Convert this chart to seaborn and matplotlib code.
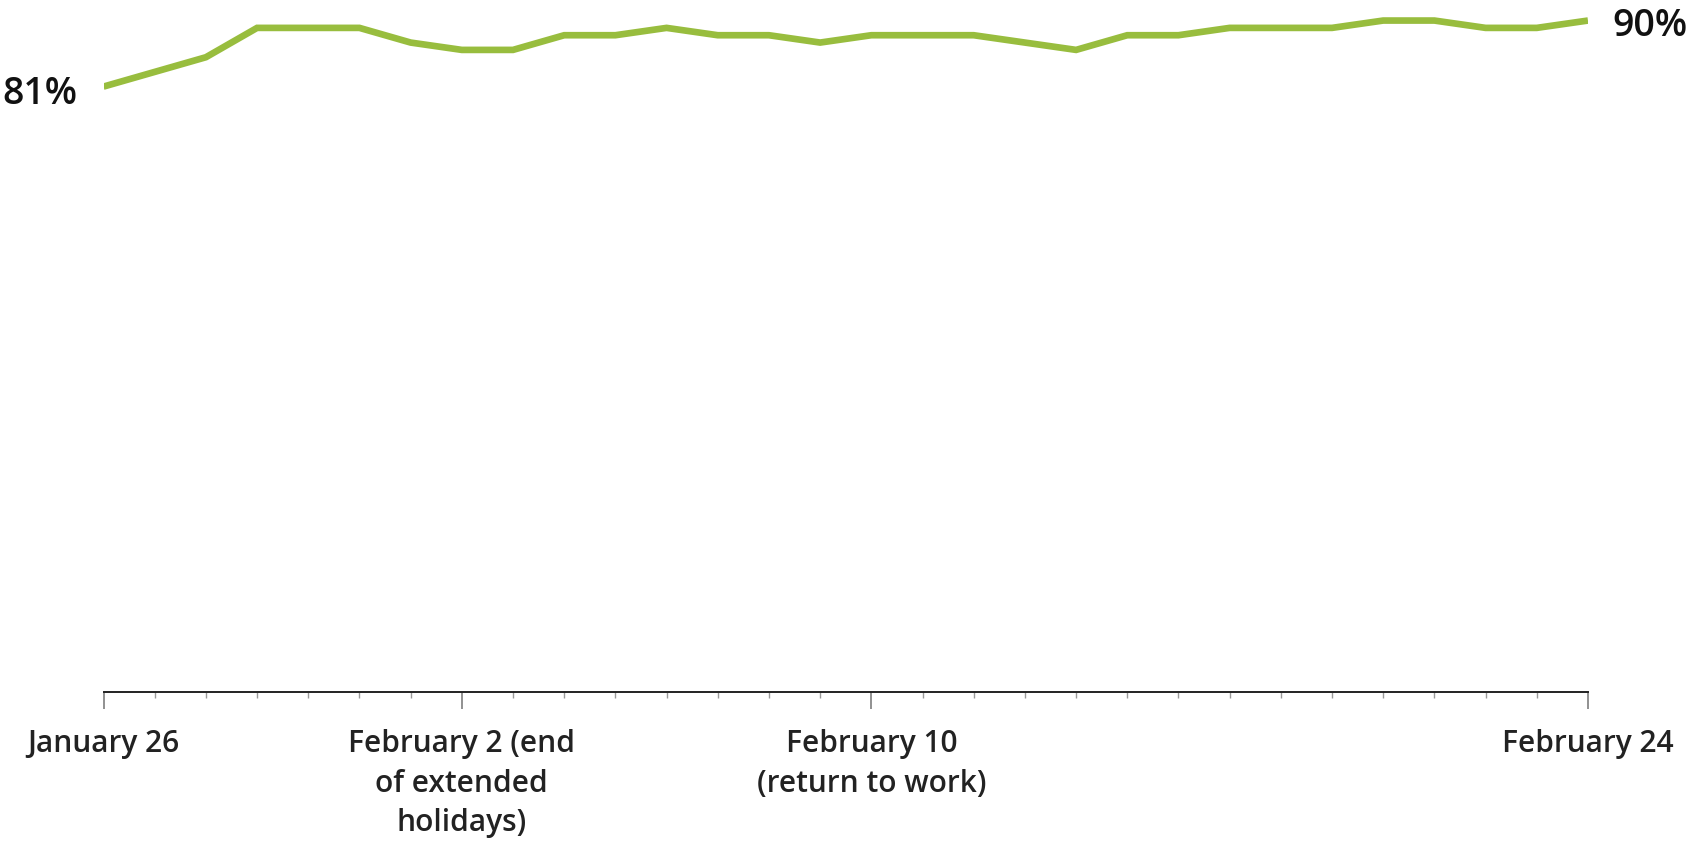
import matplotlib
matplotlib.use("Agg")
import matplotlib.pyplot as plt
from matplotlib.ticker import FixedLocator, MultipleLocator
import seaborn as sns
import pandas as pd

# Daily share, January 26 through February 24
day_index = list(range(30))
share_pct = [81, 83, 85, 89, 89, 89, 87, 86, 86, 88,
             88, 89, 88, 88, 87, 88, 88, 88, 87, 86,
             88, 88, 89, 89, 89, 90, 90, 89, 89, 90]

label_days = [0, 7, 15, 29]
label_texts = ["January 26",
               "February 2 (end\nof extended\nholidays)",
               "February 10\n(return to work)",
               "February 24"]

df = pd.DataFrame({"day": day_index, "share": share_pct})

sns.set_theme(style="white")
plt.rcParams["font.family"] = ["Open Sans", "DejaVu Sans"]

fig = plt.figure(figsize=(16.94, 8.44), dpi=100)
ax = fig.add_axes([0.0611, 0.1801, 0.8763, 0.8199])

sns.lineplot(data=df, x="day", y="share", ax=ax, color="#98BD3E",
             linewidth=4.8, solid_capstyle="butt", solid_joinstyle="miter")

ax.set_xlim(0, 29)
ax.set_ylim(-1.5, 92.8)

for side in ("left", "right", "top"):
    ax.spines[side].set_visible(False)
ax.spines["bottom"].set_color("#222222")
ax.spines["bottom"].set_linewidth(1.4)

ax.set_yticks([])
ax.xaxis.set_major_locator(FixedLocator(label_days))
ax.xaxis.set_minor_locator(MultipleLocator(1))
ax.set_xticklabels(label_texts, fontsize=21.5, fontweight="semibold",
                   color="#222222", linespacing=1.4, va="top")
ax.tick_params(axis="x", which="major", bottom=True, length=12, width=1.3,
               color="#888888", pad=15)
ax.tick_params(axis="x", which="minor", bottom=True, length=4, width=1.0,
               color="#999999")
ax.set_xlabel("")
ax.set_ylabel("")

# Start and end value labels
ax.annotate(f"{share_pct[0]}%", xy=(day_index[0], share_pct[0]),
            xytext=(-19, -12.8), textcoords="offset points",
            ha="right", va="baseline", fontsize=27, fontweight="semibold",
            color="#111111", annotation_clip=False)
ax.annotate(f"{share_pct[-1]}%", xy=(day_index[-1], share_pct[-1]),
            xytext=(17.5, -11), textcoords="offset points",
            ha="left", va="baseline", fontsize=27, fontweight="semibold",
            color="#111111", annotation_clip=False)

fig.savefig("out.png", dpi=100)
